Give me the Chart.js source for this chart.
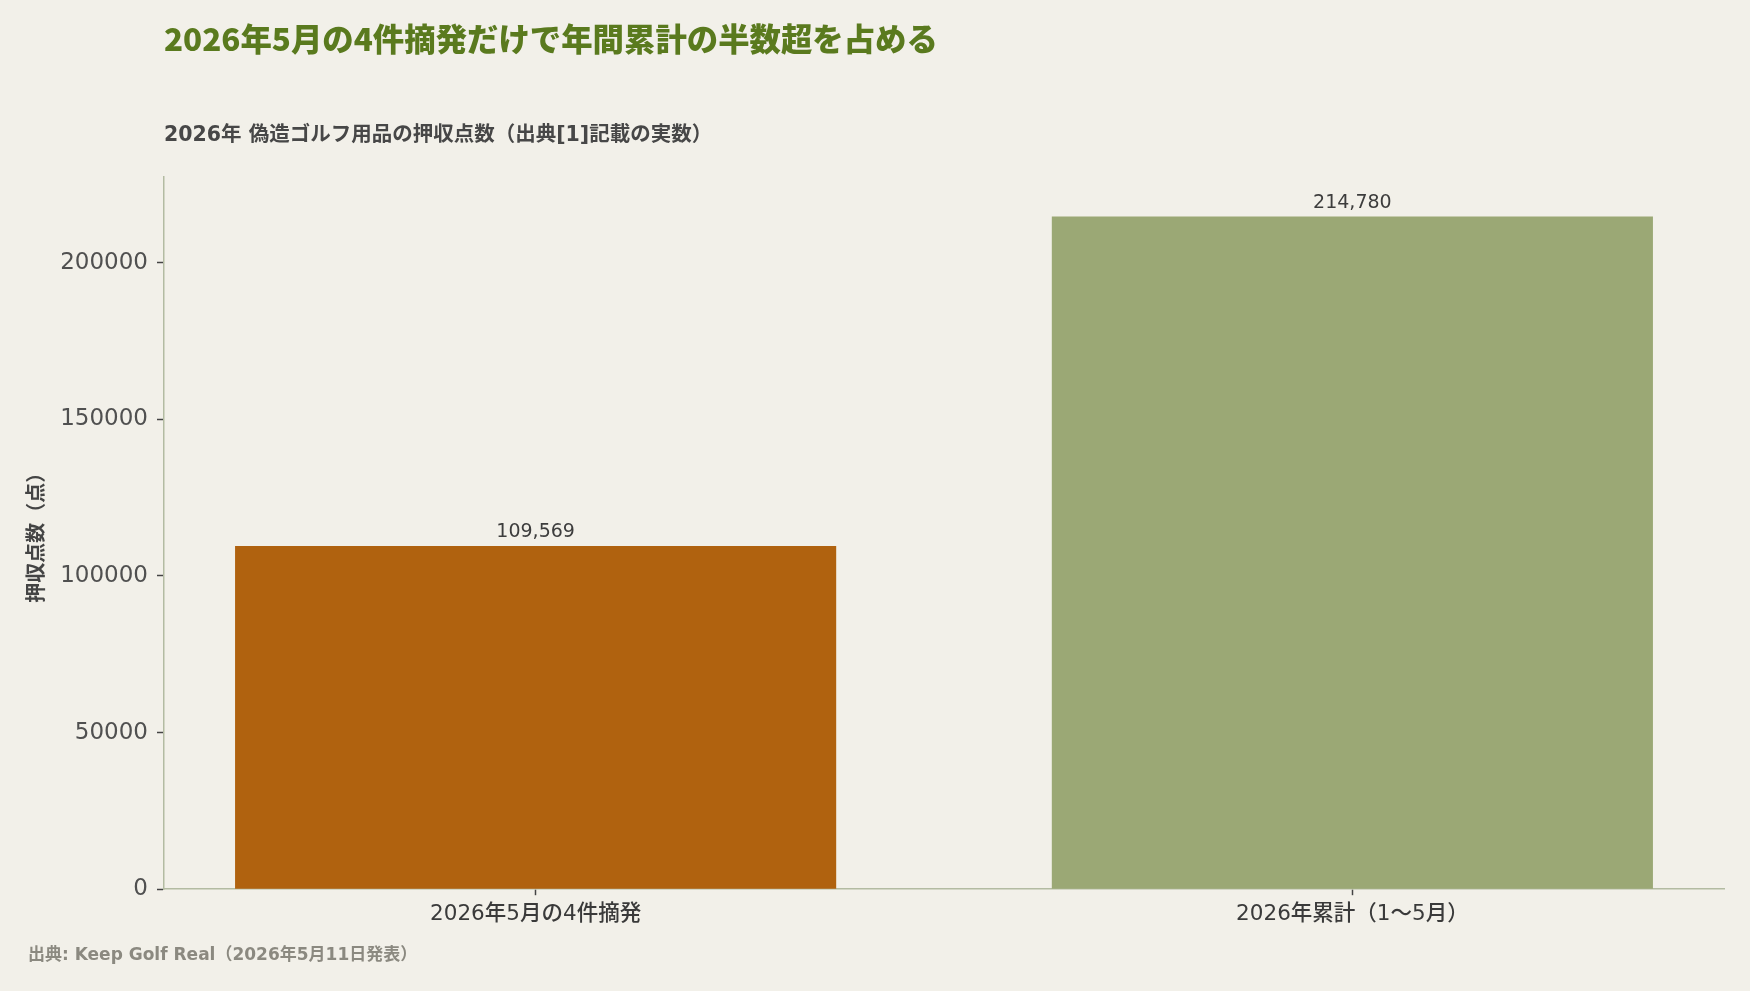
<!DOCTYPE html>
<html lang="ja">
<head>
<meta charset="utf-8">
<script src="https://cdn.jsdelivr.net/npm/chart.js@4"></script>
<style>
  html, body { margin: 0; padding: 0; background: #f2f0e9; }
  #wrap { width: 1750px; height: 991px; }
</style>
</head>
<body>
<div id="wrap"><canvas id="graf" width="1750" height="991"></canvas></div>
<script>
// data
const categories = ['2026年5月の4件摘発', '2026年累計（1〜5月）'];
const seized = [109569, 214780];
const barColors = ['#b0620f', '#9ba875'];
const yTicks = [0, 50000, 100000, 150000, 200000];

const titleText = '2026年5月の4件摘発だけで年間累計の半数超を占める';
const subText = '2026年 偽造ゴルフ用品の押収点数（出典[1]記載の実数）';
const yTitle = '押収点数（点）';
const sourceText = '出典: Keep Golf Real（2026年5月11日発表）';

const fam = "'DejaVu Sans', 'Noto Sans CJK JP', sans-serif";

// value labels above bars
const barLabels = {
  id: 'barLabels',
  afterDatasetsDraw(chart) {
    const ctx = chart.ctx;
    const meta = chart.getDatasetMeta(0);
    ctx.save();
    ctx.font = '19px ' + fam;
    ctx.fillStyle = '#3d3d3d';
    ctx.textAlign = 'center';
    ctx.textBaseline = 'bottom';
    meta.data.forEach((bar, i) => {
      ctx.fillText(seized[i].toLocaleString('en-US'), bar.x, bar.y - 4);
    });
    ctx.restore();
  }
};

// source line at the bottom
const sourceNote = {
  id: 'sourceNote',
  afterDraw(chart) {
    const ctx = chart.ctx;
    ctx.save();
    ctx.font = 'bold 17px ' + fam;
    ctx.fillStyle = '#8b8980';
    ctx.textAlign = 'left';
    ctx.textBaseline = 'middle';
    ctx.fillText(sourceText, 28, 956);
    ctx.restore();
  }
};

const bg = {
  id: 'bg',
  beforeDraw(chart) {
    const ctx = chart.ctx;
    ctx.save();
    ctx.fillStyle = '#f2f0e9';
    ctx.fillRect(0, 0, chart.width, chart.height);
    ctx.restore();
  }
};

const ctx = document.getElementById('graf').getContext('2d');

new Chart(ctx, {
  type: 'bar',
  data: {
    datasets: [{
      data: seized.map((v, i) => ({ x: i, y: v })),
      backgroundColor: barColors,
      borderWidth: 0,
      barPercentage: 0.736,
      categoryPercentage: 1
    }]
  },
  options: {
    responsive: false,
    animation: false,
    layout: { padding: { left: 22, right: 26, top: 0, bottom: 58 } },
    plugins: {
      legend: { display: false },
      tooltip: { enabled: false },
      title: {
        display: true,
        text: titleText,
        align: 'start',
        fullSize: false,
        color: '#5a7a1e',
        font: { family: "'Noto Sans CJK JP', sans-serif", size: 31.4, weight: '900' },
        padding: { top: 20, bottom: 66 }
      },
      subtitle: {
        display: true,
        text: subText,
        align: 'start',
        fullSize: false,
        color: '#474747',
        font: { family: fam, size: 20.5, weight: 'bold' },
        padding: { top: 0, bottom: 28 }
      }
    },
    scales: {
      x: {
        type: 'linear',
        min: -0.455,
        max: 1.455,
        offset: false,
        afterBuildTicks: (scale) => { scale.ticks = categories.map((c, i) => ({ value: i })); },
        ticks: {
          callback: (v) => categories[v],
          color: '#3a3a3a',
          font: { family: fam, size: 21.5, weight: '500' },
          padding: 6,
          maxRotation: 0,
          autoSkip: false
        },
        grid: { display: true, offset: false, drawOnChartArea: false, drawTicks: true, tickLength: 6, color: '#444', tickWidth: 1.5 },
        border: { display: true, color: '#b3bba2', width: 1.5 }
      },
      y: {
        min: 0,
        max: 227600,
        afterBuildTicks: (scale) => { scale.ticks = yTicks.map(v => ({ value: v })); },
        afterFit: (scale) => { scale.width = 164 - 22; },
        ticks: {
          callback: (v) => String(v),
          color: '#505050',
          font: { family: fam, size: 23 },
          padding: 9
        },
        grid: { display: true, offset: false, drawOnChartArea: false, drawTicks: true, tickLength: 7, color: '#444', tickWidth: 1.5 },
        border: { display: true, color: '#b3bba2', width: 1.5 },
        title: {
          display: true,
          text: yTitle,
          color: '#444',
          font: { family: fam, size: 20, weight: 'bold' },
          padding: { top: 4, bottom: 4 }
        }
      }
    }
  },
  plugins: [bg, barLabels, sourceNote]
});
</script>
</body>
</html>
